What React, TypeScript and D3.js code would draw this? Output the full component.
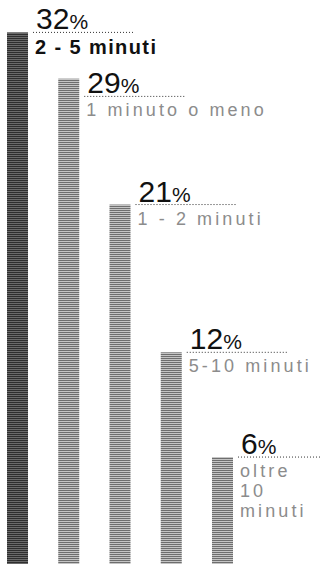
import * as d3 from "d3";

const categories = ["2 - 5 minuti", "1 minuto o meno", "1 - 2 minuti", "5-10 minuti", "oltre 10 minuti"];
const shares = [32, 29, 21, 12, 6];

function wrapWords(text: string, room: number, charWidth: number) {
  const words = text.split(" ");
  const lines: string[] = [];
  let line = "";
  for (const word of words) {
    const next = line ? `${line} ${word}` : word;
    if (line && next.length * charWidth > room) {
      lines.push(line);
      line = word;
    } else {
      line = next;
    }
  }
  if (line) lines.push(line);
  return lines;
}

export default function App() {
  const width = 320;
  const height = 564;

  const x = d3.scaleBand().domain(categories).range([7, 233]).paddingInner(0.59).paddingOuter(0);
  const y = d3.scalePow().exponent(0.9).domain([0, 32]).range([578, 32.4]);

  // push a label down when it would run into the one before it
  const lineYs: number[] = [];
  shares.forEach((v, i) => {
    const top = y(v);
    lineYs.push(i === 0 ? top : Math.max(top, lineYs[i - 1] + 64));
  });

  return (
    <svg
      width={width}
      height={height}
      style={{ position: "absolute", left: 0, top: 0, background: "#fff" }}
      fontFamily="'Liberation Sans', Arial, sans-serif"
    >
      <defs>
        <pattern id="dark" width="3" height="2" patternUnits="userSpaceOnUse">
          <rect width="3" height="2" fill="#6a6a6a" />
          <rect width="3" height="1" fill="#2e2e2e" />
        </pattern>
        <pattern id="light" width="3" height="2" patternUnits="userSpaceOnUse">
          <rect width="3" height="2" fill="#c4c4c4" />
          <rect width="3" height="1" fill="#6e6e6e" />
        </pattern>
      </defs>
      {categories.map((cat, i) => {
        const bx = x(cat) ?? 0;
        const top = y(shares[i]);
        const lineY = lineYs[i];
        const lx = bx + x.bandwidth() + 5;
        const first = i === 0;
        const lines = wrapWords(cat, width - lx - 4, 11);
        return (
          <g key={cat}>
            <rect
              x={bx}
              y={top}
              width={x.bandwidth()}
              height={height - top}
              fill={first ? "url(#dark)" : "url(#light)"}
            />
            <line
              x1={lx}
              x2={lx + 102}
              y1={lineY}
              y2={lineY}
              stroke="#333"
              strokeWidth={1}
              strokeDasharray="1,2"
            />
            <text x={lx + 3} y={lineY - 3} fill="#111">
              <tspan fontSize={30}>{shares[i]}</tspan>
              <tspan fontSize={21}>%</tspan>
            </text>
            {lines.map((ln, j) => (
              <text
                key={ln}
                x={lx + 2}
                y={lineY + (first ? 22 : 20) + j * 20}
                fontSize={first ? 20 : 18}
                fontWeight={first ? "bold" : "normal"}
                letterSpacing={first ? 1.4 : 3.1}
                fill={first ? "#111" : "#8c8c8c"}
              >
                {ln}
              </text>
            ))}
          </g>
        );
      })}
    </svg>
  );
}
